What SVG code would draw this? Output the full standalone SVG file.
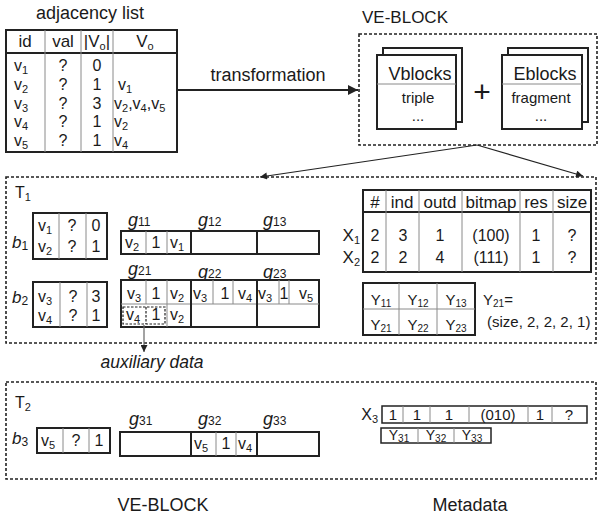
<svg xmlns="http://www.w3.org/2000/svg" width="598" height="520" viewBox="0 0 598 520">
<defs>
<style>
text{font-family:"Liberation Sans",Arial,sans-serif;fill:#1a1a1a}
.t{font-size:16px}
.s{font-size:15px}
.c{text-anchor:middle}
.e{text-anchor:end}
.it{font-style:italic}
.box{fill:#fff;stroke:#222;stroke-width:2}
.nf{fill:none;stroke:#222;stroke-width:2}
.thin{stroke:#8a8a8a;stroke-width:1;fill:none}
.thick{stroke:#222;stroke-width:2;fill:none}
.dash{fill:none;stroke:#222;stroke-width:1.6;stroke-dasharray:3 2}
.sdash{fill:none;stroke:#222;stroke-width:1.2;stroke-dasharray:2.5 1.5}
.conn{stroke:#222;stroke-width:1.2;fill:none}
</style>
<marker id="ah" viewBox="0 0 10 10" refX="10" refY="5" markerWidth="10" markerHeight="10" markerUnits="userSpaceOnUse" orient="auto">
<path d="M0,0 L10,5 L0,10 z" fill="#222"/>
</marker>
<marker id="ahs" viewBox="0 0 10 10" refX="10" refY="5" markerWidth="8" markerHeight="7" markerUnits="userSpaceOnUse" orient="auto">
<path d="M0,0 L10,5 L0,10 z" fill="#222"/>
</marker>
</defs>

<!-- adjacency list -->
<g id="adjacency">
<text class="c" x="90" y="19" style="font-size:18px">adjacency list</text>
<rect class="box" x="6" y="30" width="171" height="122"/>
<line class="thick" x1="6" y1="53" x2="178" y2="53"/>
<line class="thin" x1="45" y1="30" x2="45" y2="152"/>
<line class="thin" x1="81" y1="30" x2="81" y2="152"/>
<line class="thin" x1="113" y1="30" x2="113" y2="152"/>
<text class="c" x="25" y="47" style="font-size:17px">id</text>
<text class="c" x="63" y="47" style="font-size:17px">val</text>
<text class="c" x="97" y="47" style="font-size:17px">|V<tspan font-size="11" dy="3">o</tspan><tspan dy="-3">|</tspan></text>
<text class="c" x="145" y="47" style="font-size:17px">V<tspan font-size="11" dy="3">o</tspan></text>
<text class="t" x="14" y="71">v<tspan font-size="11" dy="3">1</tspan></text>
<text class="t" x="14" y="90">v<tspan font-size="11" dy="3">2</tspan></text>
<text class="t" x="14" y="109">v<tspan font-size="11" dy="3">3</tspan></text>
<text class="t" x="14" y="127">v<tspan font-size="11" dy="3">4</tspan></text>
<text class="t" x="14" y="146">v<tspan font-size="11" dy="3">5</tspan></text>
<text class="t c" x="63" y="71">?</text>
<text class="t c" x="63" y="90">?</text>
<text class="t c" x="63" y="109">?</text>
<text class="t c" x="63" y="127">?</text>
<text class="t c" x="63" y="146">?</text>
<text class="t c" x="97" y="71">0</text>
<text class="t c" x="97" y="90">1</text>
<text class="t c" x="97" y="109">3</text>
<text class="t c" x="97" y="127">1</text>
<text class="t c" x="97" y="146">1</text>
<text class="t" x="118" y="90">v<tspan font-size="11" dy="3">1</tspan></text>
<text class="t" x="114" y="109">v<tspan font-size="11" dy="3">2</tspan><tspan dy="-3">,v</tspan><tspan font-size="11" dy="3">4</tspan><tspan dy="-3">,v</tspan><tspan font-size="11" dy="3">5</tspan></text>
<text class="t" x="114" y="127">v<tspan font-size="11" dy="3">2</tspan></text>
<text class="t" x="114" y="146">v<tspan font-size="11" dy="3">4</tspan></text>
</g>

<!-- VE-BLOCK overview -->
<g id="veblock">
<text class="c" x="405" y="23" style="font-size:17px">VE-BLOCK</text>
<rect class="dash" x="359" y="34" width="238" height="111"/>
<g id="vblocks">
<rect class="box" x="383" y="48" width="79" height="74"/>
<rect class="box" x="377" y="55" width="79" height="74"/>
<line class="thin" x1="377" y1="84" x2="456" y2="84"/>
<text class="c" x="420" y="80" style="font-size:18px">Vblocks</text>
<text class="s c" x="418" y="103">triple</text>
<text class="s c" x="418" y="121">...</text>
</g>
<text class="c" x="482" y="102" style="font-size:30px">+</text>
<g id="eblocks">
<rect class="box" x="508" y="48" width="80" height="74"/>
<rect class="box" x="502" y="55" width="80" height="74"/>
<line class="thin" x1="502" y1="84" x2="582" y2="84"/>
<text class="c" x="545" y="80" style="font-size:18px">Eblocks</text>
<text class="s c" x="541" y="103">fragment</text>
<text class="s c" x="541" y="121">...</text>
</g>
</g>

<!-- T1 -->
<g id="T1">
<rect class="dash" x="6" y="177" width="590" height="166"/>
<text class="t" x="15" y="198">T<tspan font-size="11" dy="3">1</tspan></text>
</g>

<g id="b1">
<text x="12" y="248" class="it" style="font-size:17px">b<tspan font-style="normal" font-size="12" dy="2">1</tspan></text>
<rect class="box" x="33" y="213" width="74" height="46"/>
<line class="thin" x1="59" y1="213" x2="59" y2="259"/>
<line class="thin" x1="86" y1="213" x2="86" y2="259"/>
<text class="t" x="38" y="231">v<tspan font-size="11" dy="3">1</tspan></text>
<text class="t" x="38" y="252">v<tspan font-size="11" dy="3">2</tspan></text>
<text class="t c" x="72" y="231">?</text>
<text class="t c" x="72" y="252">?</text>
<text class="t c" x="96" y="231">0</text>
<text class="t c" x="96" y="252">1</text>
</g>

<g id="g1">
<text x="128" y="226" class="it" style="font-size:18px">g<tspan font-style="normal" font-size="12">11</tspan></text>
<text x="198" y="226" class="it" style="font-size:18px">g<tspan font-style="normal" font-size="12">12</tspan></text>
<text x="263" y="226" class="it" style="font-size:18px">g<tspan font-style="normal" font-size="12">13</tspan></text>
<rect class="box" x="121" y="231" width="198" height="23"/>
<line class="thin" x1="146" y1="231" x2="146" y2="254"/>
<line class="thin" x1="167" y1="231" x2="167" y2="254"/>
<line class="thick" x1="191" y1="231" x2="191" y2="254"/>
<line class="thick" x1="257" y1="231" x2="257" y2="254"/>
<text class="t" x="125" y="248">v<tspan font-size="11" dy="3">2</tspan></text>
<text class="t c" x="156" y="248">1</text>
<text class="t" x="170" y="248">v<tspan font-size="11" dy="3">1</tspan></text>
</g>

<g id="b2">
<text x="12" y="303" class="it" style="font-size:17px">b<tspan font-style="normal" font-size="12" dy="2">2</tspan></text>
<rect class="box" x="33" y="282" width="74" height="45"/>
<line class="thin" x1="60" y1="282" x2="60" y2="327"/>
<line class="thin" x1="87" y1="282" x2="87" y2="327"/>
<text class="t" x="38" y="302">v<tspan font-size="11" dy="3">3</tspan></text>
<text class="t" x="38" y="321">v<tspan font-size="11" dy="3">4</tspan></text>
<text class="t c" x="73" y="302">?</text>
<text class="t c" x="73" y="321">?</text>
<text class="t c" x="96" y="302">3</text>
<text class="t c" x="96" y="321">1</text>
</g>

<g id="g2">
<text x="128" y="275" class="it" style="font-size:18px">g<tspan font-style="normal" font-size="12">21</tspan></text>
<text x="198" y="278" class="it" style="font-size:18px">g<tspan font-style="normal" font-size="12">22</tspan></text>
<text x="263" y="278" class="it" style="font-size:18px">g<tspan font-style="normal" font-size="12">23</tspan></text>
<rect class="box" x="121" y="280" width="198" height="47"/>
<line class="thin" x1="121" y1="304" x2="319" y2="304"/>
<line class="thin" x1="146" y1="280" x2="146" y2="304"/>
<line class="thin" x1="167" y1="280" x2="167" y2="327"/>
<line class="thick" x1="191" y1="280" x2="191" y2="327"/>
<line class="thin" x1="213" y1="280" x2="213" y2="304"/>
<line class="thin" x1="233" y1="280" x2="233" y2="304"/>
<line class="thick" x1="257" y1="280" x2="257" y2="327"/>
<line class="thin" x1="279" y1="280" x2="279" y2="304"/>
<line class="thin" x1="289" y1="280" x2="289" y2="304"/>
<text class="t" x="127" y="299">v<tspan font-size="11" dy="3">3</tspan></text>
<text class="t c" x="156" y="299">1</text>
<text class="t" x="170" y="299">v<tspan font-size="11" dy="3">2</tspan></text>
<text class="t" x="193" y="299">v<tspan font-size="11" dy="3">3</tspan></text>
<text class="t c" x="225" y="299">1</text>
<text class="t" x="238" y="299">v<tspan font-size="11" dy="3">4</tspan></text>
<text class="t" x="258" y="299">v<tspan font-size="11" dy="3">3</tspan></text>
<text class="t c" x="284" y="299">1</text>
<text class="t" x="299" y="299">v<tspan font-size="11" dy="3">5</tspan></text>
<rect class="sdash" x="123" y="307" width="42" height="17"/>
<line class="sdash" x1="146" y1="307" x2="146" y2="324"/>
<text class="t" x="126" y="320">v<tspan font-size="11" dy="3">4</tspan></text>
<text class="t c" x="156" y="320">1</text>
<text class="t" x="170" y="320">v<tspan font-size="11" dy="3">2</tspan></text>
</g>

<g id="auxiliary">
<text class="c it" x="152" y="368" style="font-size:17.5px">auxiliary data</text>
</g>

<!-- metadata T1 -->
<g id="Xtable">
<rect class="box" x="363" y="190" width="228" height="82"/>
<line class="thick" x1="363" y1="212" x2="591" y2="212"/>
<line class="thin" x1="386" y1="190" x2="386" y2="272"/>
<line class="thin" x1="419" y1="190" x2="419" y2="272"/>
<line class="thin" x1="462" y1="190" x2="462" y2="272"/>
<line class="thin" x1="520" y1="190" x2="520" y2="272"/>
<line class="thin" x1="553" y1="190" x2="553" y2="272"/>
<text class="c" x="375" y="208" style="font-size:17px">#</text>
<text class="c" x="402" y="208" style="font-size:17px">ind</text>
<text class="c" x="440" y="208" style="font-size:17px">outd</text>
<text class="c" x="491" y="208" style="font-size:17px">bitmap</text>
<text class="c" x="536" y="208" style="font-size:17px">res</text>
<text class="c" x="572" y="208" style="font-size:17px">size</text>
<text class="e" x="360" y="241" style="font-size:17px">X<tspan font-size="11" dy="3">1</tspan></text>
<text class="e" x="360" y="263" style="font-size:17px">X<tspan font-size="11" dy="3">2</tspan></text>
<text class="t c" x="375" y="241">2</text>
<text class="t c" x="403" y="241">3</text>
<text class="t c" x="440" y="241">1</text>
<text class="t c" x="491" y="241">(100)</text>
<text class="t c" x="536" y="241">1</text>
<text class="t c" x="572" y="241">?</text>
<text class="t c" x="375" y="263">2</text>
<text class="t c" x="403" y="263">2</text>
<text class="t c" x="440" y="263">4</text>
<text class="t c" x="491" y="263">(111)</text>
<text class="t c" x="536" y="263">1</text>
<text class="t c" x="572" y="263">?</text>
</g>

<g id="Ytable">
<rect class="box" x="363" y="283" width="112" height="52"/>
<line class="thin" x1="363" y1="309" x2="475" y2="309"/>
<line class="thin" x1="399" y1="283" x2="399" y2="335"/>
<line class="thin" x1="437" y1="283" x2="437" y2="335"/>
<text class="c" x="381" y="305" style="font-size:15px">Y<tspan font-size="10" dy="2">11</tspan></text>
<text class="c" x="418" y="305" style="font-size:15px">Y<tspan font-size="10" dy="2">12</tspan></text>
<text class="c" x="456" y="305" style="font-size:15px">Y<tspan font-size="10" dy="2">13</tspan></text>
<text class="c" x="381" y="330" style="font-size:15px">Y<tspan font-size="10" dy="2">21</tspan></text>
<text class="c" x="418" y="330" style="font-size:15px">Y<tspan font-size="10" dy="2">22</tspan></text>
<text class="c" x="456" y="330" style="font-size:15px">Y<tspan font-size="10" dy="2">23</tspan></text>
<text x="483" y="305" style="font-size:15px">Y<tspan font-size="10" dy="2">21</tspan><tspan dy="-2">=</tspan></text>
<text x="487" y="327" style="font-size:15px">(size, 2, 2, 2, 1)</text>
</g>

<!-- T2 -->
<g id="T2">
<rect class="dash" x="6" y="382" width="590" height="97"/>
<text class="t" x="15" y="408">T<tspan font-size="11" dy="3">2</tspan></text>
</g>

<g id="b3">
<text x="12" y="444" class="it" style="font-size:17px">b<tspan font-style="normal" font-size="12" dy="2">3</tspan></text>
<rect class="box" x="37" y="428" width="73" height="25"/>
<line class="thin" x1="63" y1="428" x2="63" y2="453"/>
<line class="thin" x1="89" y1="428" x2="89" y2="453"/>
<text class="t" x="41" y="446">v<tspan font-size="11" dy="3">5</tspan></text>
<text class="t c" x="76" y="446">?</text>
<text class="t c" x="99" y="446">1</text>
</g>

<g id="g3">
<text x="129" y="425" class="it" style="font-size:18px">g<tspan font-style="normal" font-size="12">31</tspan></text>
<text x="198" y="425" class="it" style="font-size:18px">g<tspan font-style="normal" font-size="12">32</tspan></text>
<text x="263" y="425" class="it" style="font-size:18px">g<tspan font-style="normal" font-size="12">33</tspan></text>
<rect class="box" x="120" y="432" width="199" height="24"/>
<line class="thick" x1="191" y1="432" x2="191" y2="456"/>
<line class="thin" x1="216" y1="432" x2="216" y2="456"/>
<line class="thin" x1="236" y1="432" x2="236" y2="456"/>
<line class="thick" x1="257" y1="432" x2="257" y2="456"/>
<text class="t" x="194" y="449">v<tspan font-size="11" dy="3">5</tspan></text>
<text class="t c" x="226" y="449">1</text>
<text class="t" x="238" y="449">v<tspan font-size="11" dy="3">4</tspan></text>
</g>

<g id="X3">
<text class="e" x="378" y="420" style="font-size:16px">X<tspan font-size="11" dy="3">3</tspan></text>
<rect class="box" x="382" y="406" width="205" height="17" style="stroke-width:1.5"/>
<line class="thin" x1="403" y1="406" x2="403" y2="423"/>
<line class="thin" x1="430" y1="406" x2="430" y2="423"/>
<line class="thin" x1="469" y1="406" x2="469" y2="423"/>
<line class="thin" x1="528" y1="406" x2="528" y2="423"/>
<line class="thin" x1="552" y1="406" x2="552" y2="423"/>
<text class="s c" x="393" y="420">1</text>
<text class="s c" x="417" y="420">1</text>
<text class="s c" x="449" y="420">1</text>
<text class="s c" x="498" y="420">(010)</text>
<text class="s c" x="540" y="420">1</text>
<text class="s c" x="569" y="420">?</text>
</g>

<g id="Y3">
<rect class="box" x="381" y="428" width="110" height="15" style="stroke-width:1.5"/>
<line class="thin" x1="418" y1="428" x2="418" y2="443"/>
<line class="thin" x1="454" y1="428" x2="454" y2="443"/>
<text class="c" x="399" y="440" style="font-size:14px">Y<tspan font-size="10" dy="2">31</tspan></text>
<text class="c" x="436" y="440" style="font-size:14px">Y<tspan font-size="10" dy="2">32</tspan></text>
<text class="c" x="472" y="440" style="font-size:14px">Y<tspan font-size="10" dy="2">33</tspan></text>
</g>

<g id="captions">
<text class="c" x="163" y="511" style="font-size:18px">VE-BLOCK</text>
<text class="c" x="470" y="511" style="font-size:18px">Metadata</text>
</g>

<!-- connectors -->
<g id="connectors">
<line class="conn" x1="177" y1="90" x2="358" y2="90" style="stroke-width:1.8" marker-end="url(#ah)"/>
<text class="c" x="268" y="81" style="font-size:18px">transformation</text>
<line class="conn" x1="477" y1="145" x2="260" y2="177" marker-end="url(#ahs)"/>
<line class="conn" x1="477" y1="145" x2="583" y2="176" marker-end="url(#ahs)"/>
<line class="conn" x1="144" y1="325" x2="144" y2="352" style="stroke:#666" marker-end="url(#ahs)"/>
</g>
</svg>
